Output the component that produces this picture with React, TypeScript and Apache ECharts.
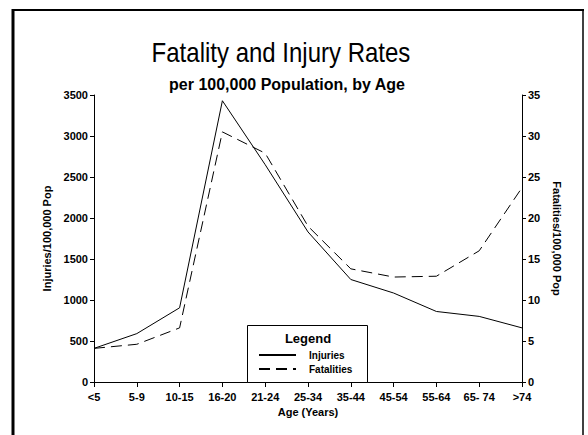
import React, { useEffect, useRef } from "react";
import * as echarts from "echarts";

const categories = ["<5", "5-9", "10-15", "16-20", "21-24", "25-34", "35-44", "45-54", "55-64", "65- 74", ">74"];
const injuries = [410, 590, 905, 3430, 2650, 1830, 1250, 1085, 860, 800, 660];
const fatalities = [4.1, 4.6, 6.6, 30.5, 27.9, 19.0, 13.8, 12.8, 12.9, 16.0, 23.7];
const injuryTicks = { min: 0, max: 3500, interval: 500 };
const fatalityTicks = { min: 0, max: 35, interval: 5 };

const FONT = "'Liberation Sans', Arial, Helvetica, sans-serif";

export default function App() {
  const ref = useRef<HTMLDivElement>(null);
  useEffect(() => {
    if (!ref.current) return;
    const chart = echarts.init(ref.current, undefined, { renderer: "svg" });
    const axisText = { color: "#000", fontFamily: FONT, fontSize: 11, fontWeight: "bold" as const };
    chart.setOption({
      animation: false,
      backgroundColor: "#fff",
      textStyle: { fontFamily: FONT },
      grid: { left: 94, right: 66, top: 95, bottom: 53 },
      xAxis: {
        type: "category",
        data: categories,
        boundaryGap: false,
        axisLine: { lineStyle: { color: "#000", width: 1 } },
        axisTick: { length: 5, interval: 0, lineStyle: { color: "#000" } },
        axisLabel: { ...axisText, interval: 0, margin: 9 },
        name: "Age (Years)",
        nameLocation: "middle",
        nameGap: 24,
        nameTextStyle: axisText,
      },
      yAxis: [
        {
          type: "value",
          ...injuryTicks,
          position: "left",
          axisLine: { show: true, lineStyle: { color: "#000", width: 1 } },
          axisTick: { show: true, length: 4, lineStyle: { color: "#000" } },
          splitLine: { show: false },
          axisLabel: { ...axisText, margin: 6, formatter: (v: number) => String(v) },
          name: "Injuries/100,000 Pop",
          nameLocation: "middle",
          nameRotate: 90,
          nameGap: 36,
          nameTextStyle: axisText,
        },
        {
          type: "value",
          ...fatalityTicks,
          position: "right",
          axisLine: { show: true, lineStyle: { color: "#000", width: 1 } },
          axisTick: { show: true, length: 4, lineStyle: { color: "#000" } },
          splitLine: { show: false },
          axisLabel: { ...axisText, margin: 6, formatter: (v: number) => String(v) },
          name: "Fatalities/100,000 Pop",
          nameLocation: "middle",
          nameRotate: -90,
          nameGap: 25,
          nameTextStyle: axisText,
        },
      ],
      legend: {
        orient: "vertical",
        left: 258,
        top: 350,
        itemWidth: 37,
        itemHeight: 10,
        itemGap: 4,
        padding: 0,
        itemStyle: { opacity: 0 },
        textStyle: { ...axisText, fontSize: 10, padding: [0, 0, 0, 8] },
        data: ["Injuries", "Fatalities"],
        z: 10,
      },
      series: [
        {
          name: "Injuries",
          type: "line",
          data: injuries,
          yAxisIndex: 0,
          symbol: "none",
          lineStyle: { color: "#000", width: 1 },
          itemStyle: { color: "#000" },
        },
        {
          name: "Fatalities",
          type: "line",
          data: fatalities,
          yAxisIndex: 1,
          symbol: "none",
          lineStyle: { color: "#000", width: 1, type: [11, 6] },
          itemStyle: { color: "#000" },
        },
      ],
      graphic: [
        { type: "line", shape: { x1: 13, y1: 9, x2: 13, y2: 435 }, style: { stroke: "#000", lineWidth: 3 } },
        { type: "line", shape: { x1: 12, y1: 10, x2: 584, y2: 10 }, style: { stroke: "#000", lineWidth: 2 } },
        { type: "line", shape: { x1: 583, y1: 10, x2: 583, y2: 435 }, style: { stroke: "#000", lineWidth: 1.5 } },
        {
          type: "text",
          x: 281,
          y: 52,
          scaleY: 1.15,
          style: { text: "Fatality and Injury Rates", font: `24px ${FONT}`, fill: "#000", textAlign: "center", textVerticalAlign: "middle" },
        },
        {
          type: "text",
          x: 287,
          y: 84,
          style: { text: "per 100,000 Population, by Age", font: `bold 16px ${FONT}`, fill: "#000", textAlign: "center", textVerticalAlign: "middle" },
        },
        {
          type: "rect",
          shape: { x: 247.5, y: 325.5, width: 120, height: 57 },
          style: { fill: "#fff", stroke: "#000", lineWidth: 1 },
          z: 5,
        },
        {
          type: "text",
          x: 308,
          y: 338,
          style: { text: "Legend", font: `bold 13px ${FONT}`, fill: "#000", textAlign: "center", textVerticalAlign: "middle" },
          z: 6,
        },
      ],
    });
    return () => chart.dispose();
  }, []);
  return <div ref={ref} style={{ position: "fixed", left: 0, top: 0, width: 588, height: 435 }} />;
}
